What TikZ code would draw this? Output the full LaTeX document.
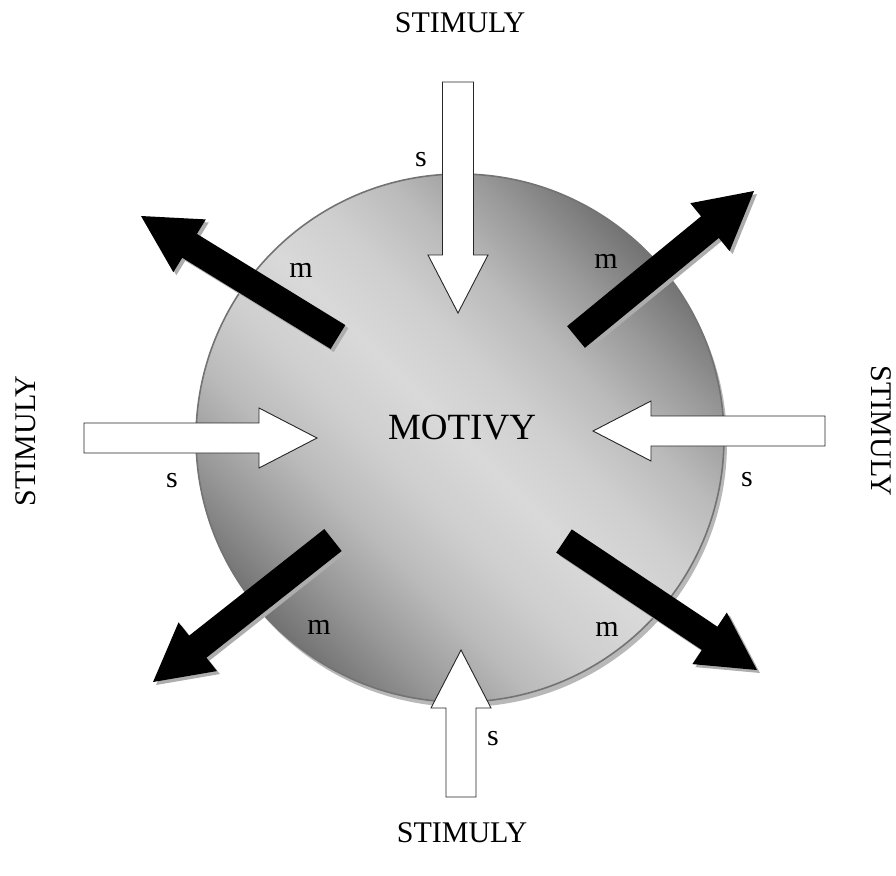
\documentclass[tikz,border=0pt]{standalone}
\usepackage{fontspec}
\setmainfont{Liberation Serif}
\usetikzlibrary{calc,shadows}

% Block arrow from #1 (tail) to #2 (tip):
% #3 half shaft width, #4 half head width, #5 head length, #6 path style
\newcommand\fatarrow[6]{%
  \path coordinate (fa-base) at ($(#2)!#5!(#1)$);
  \path[#6] ($(#1)!#3!90:(#2)$) -- ($(fa-base)!#3!90:(#2)$)
    -- ($(fa-base)!#4!90:(#2)$) -- (#2)
    -- ($(fa-base)!#4!-90:(#2)$) -- ($(fa-base)!#3!-90:(#2)$)
    -- ($(#1)!#3!-90:(#2)$) -- cycle;
}

% grey sphere shading: dark at both ends of the axis, broad light middle
\pgfdeclareverticalshading{orb}{100bp}{%
  color(0bp)=(black!56); color(25bp)=(black!55);
  color(31.25bp)=(black!40); color(37.5bp)=(black!27);
  color(43.75bp)=(black!19); color(50bp)=(black!15);
  color(56.25bp)=(black!19); color(62.5bp)=(black!27);
  color(68.75bp)=(black!40); color(75bp)=(black!55);
  color(100bp)=(black!56)}

\tikzset{
  lbl/.style={font=\fontsize{30}{36}\selectfont, inner sep=0pt},
  core/.style={circle, minimum size=528pt, inner sep=0pt,
    draw=black!55, line width=1.6pt,
    shade, shading=orb, shading angle=-45,
    drop shadow={shadow xshift=3pt, shadow yshift=-5pt, fill=black!28, opacity=1}},
  outbody/.style={fill=black},
  outshadow/.style={fill=black!32},
  inbody/.style={fill=white, draw=black!85, line width=0.9pt, line join=miter},
}

\begin{document}
\begin{tikzpicture}[x=1pt, y=-1pt]
  \useasboundingbox (0,0) rectangle (896,875);

  % the sphere of motives
  \node[core] (sphere) at (460,438) {};

  % ends of the outgoing (motive) arrows
  \coordinate (tl-tail) at (338,337);  \coordinate (tl-tip) at (141,216);
  \coordinate (tr-tail) at (576,337);  \coordinate (tr-tip) at (754,191);
  \coordinate (bl-tail) at (333,540);  \coordinate (bl-tip) at (153,682);
  \coordinate (br-tail) at (564,541);  \coordinate (br-tip) at (757,670);

  % ends of the incoming (stimulus) arrows
  \coordinate (n-tail) at (458,82);   \coordinate (n-tip) at (458,313);
  \coordinate (s-tail) at (461,797);  \coordinate (s-tip) at (461,650);
  \coordinate (w-tail) at (84,438);   \coordinate (w-tip) at (317,438);
  \coordinate (e-tail) at (825,431);  \coordinate (e-tip) at (593,431);

  % shadows of the black arrows
  \begin{scope}[transform canvas={shift={(3pt,-3pt)}}]
    \fatarrow{tl-tail}{tl-tip}{14pt}{31pt}{57pt}{outshadow}
    \fatarrow{tr-tail}{tr-tip}{14pt}{31pt}{57pt}{outshadow}
    \fatarrow{bl-tail}{bl-tip}{14pt}{31pt}{57pt}{outshadow}
    \fatarrow{br-tail}{br-tip}{14pt}{31pt}{57pt}{outshadow}
  \end{scope}

  % black arrows
  \fatarrow{tl-tail}{tl-tip}{14pt}{31pt}{57pt}{outbody}
  \fatarrow{tr-tail}{tr-tip}{14pt}{31pt}{57pt}{outbody}
  \fatarrow{bl-tail}{bl-tip}{14pt}{31pt}{57pt}{outbody}
  \fatarrow{br-tail}{br-tip}{14pt}{31pt}{57pt}{outbody}

  % white arrows
  \fatarrow{n-tail}{n-tip}{15.5pt}{30pt}{58pt}{inbody}
  \fatarrow{s-tail}{s-tip}{15pt}{30pt}{58pt}{inbody}
  \fatarrow{w-tail}{w-tip}{15pt}{30pt}{58pt}{inbody}
  \fatarrow{e-tail}{e-tip}{15pt}{30pt}{58pt}{inbody}

  % labels
  \node[font=\fontsize{37}{44}\selectfont, inner sep=0pt] (motivy) at (462,428) {MOTIVY};
  \node[lbl] (st-top) at (460,23) {STIMULY};
  \node[lbl] (st-bot) at (462,833) {STIMULY};
  \node[lbl, rotate=90] (st-left) at (26,441) {STIMULY};
  \node[lbl, rotate=-90] (st-right) at (881,431) {STIMULY};

  \node[lbl] (s-n) at (421,160) {s};
  \node[lbl] (s-w) at (172,481) {s};
  \node[lbl] (s-e) at (747,480) {s};
  \node[lbl] (s-s) at (493,739) {s};

  \node[lbl] (m-tl) at (301,270) {m};
  \node[lbl] (m-tr) at (606,261) {m};
  \node[lbl] (m-bl) at (319,627) {m};
  \node[lbl] (m-br) at (607,629) {m};
\end{tikzpicture}
\end{document}
